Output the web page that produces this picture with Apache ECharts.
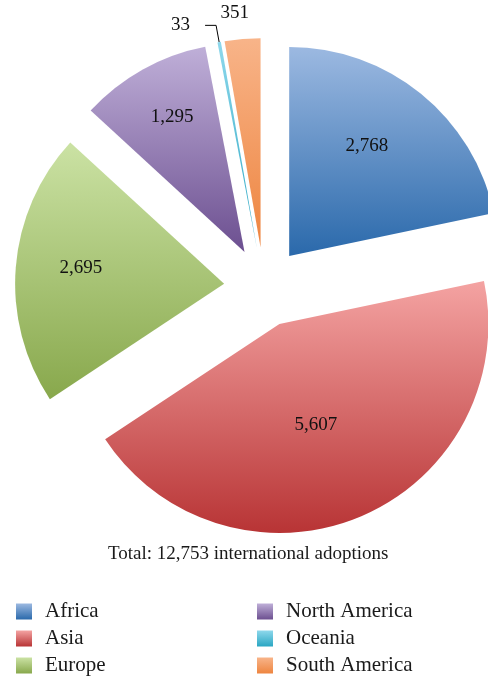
<!DOCTYPE html>
<html>
<head>
<meta charset="utf-8">
<script src="https://cdn.jsdelivr.net/npm/echarts@6/dist/echarts.min.js"></script>
<style>
html,body{margin:0;padding:0;background:#fff;}
#chart{width:488px;height:676px;}
</style>
</head>
<body>
<div id="chart"></div>
<script>
// ---- data ----
const categories = ['Africa', 'Asia', 'Europe', 'North America', 'Oceania', 'South America'];
const values = [2768, 5607, 2695, 1295, 33, 351];
const totalText = 'Total: 12,753 international adoptions';

// ---- styles ----
const gradTop = ['#9cb9e1', '#f4a3a2', '#cbe2a4', '#bfafd8', '#8ed8ec', '#f8b489'];
const gradBottom = ['#2a69ab', '#b83435', '#88a84c', '#6c4f90', '#2aa6c2', '#ee8540'];
// label nudges (dx, dy) in pixels; Oceania keeps its leader line untouched
const labelShift = [[10, -26], [-5, 2], [-36, -7], [-20, -41], null, [24, -9]];
const FONT = '"Liberation Serif", "DejaVu Serif", serif';

function grad(i) {
  return new echarts.graphic.LinearGradient(0, 0, 0, 1, [
    { offset: 0, color: gradTop[i] },
    { offset: 1, color: gradBottom[i] }
  ]);
}
function fmt(v) { return v.toLocaleString('en-US'); }

const seriesData = categories.map((name, i) => {
  const small = values[i] < 500;
  const item = {
    name: name,
    value: values[i],
    selected: true,
    itemStyle: { color: grad(i) },
    label: { position: small ? 'outside' : 'inside' }
  };
  if (small) {
    const isOce = name === 'Oceania';
    item.label.distanceToLabelLine = isOce ? 15 : 5;
    if (isOce) item.label.padding = [0, 0, 22, 0];
    item.labelLine = {
      show: isOce,
      length: 17,
      length2: 11,
      lineStyle: { color: '#000', width: 1 }
    };
  }
  return item;
});

const legendBase = {
  orient: 'vertical',
  top: 601,
  padding: 0,
  icon: 'rect',
  itemWidth: 16,
  itemHeight: 16,
  itemGap: 6,
  selectedMode: false,
  textStyle: { fontFamily: FONT, fontSize: 21, lineHeight: 21, color: '#1a1a1a', padding: [0, 0, 0, 8] }
};

const chart = echarts.init(document.getElementById('chart'), null, { renderer: 'canvas' });
chart.setOption({
  animation: false,
  backgroundColor: '#ffffff',
  title: {
    text: totalText,
    left: 108,
    top: 545,
    padding: 0,
    textStyle: { fontFamily: FONT, fontSize: 19, fontWeight: 'normal', color: '#1a1a1a' }
  },
  legend: [
    Object.assign({}, legendBase, { data: categories.slice(0, 3), left: 16 }),
    Object.assign({}, legendBase, { data: categories.slice(3), left: 257 })
  ],
  series: [{
    type: 'pie',
    center: [264, 287],
    radius: [0, 209],
    startAngle: 90,
    clockwise: true,
    selectedMode: 'multiple',
    selectedOffset: 40,
    avoidLabelOverlap: false,
    label: {
      show: true,
      formatter: p => fmt(p.value),
      fontFamily: FONT,
      fontSize: 19,
      color: '#111'
    },
    labelLayout: function (params) {
      const s = labelShift[params.dataIndex];
      return s ? { dx: s[0], dy: s[1] } : {};
    },
    emphasis: { disabled: true },
    select: { itemStyle: {} },
    data: seriesData
  }]
});
</script>
</body>
</html>
